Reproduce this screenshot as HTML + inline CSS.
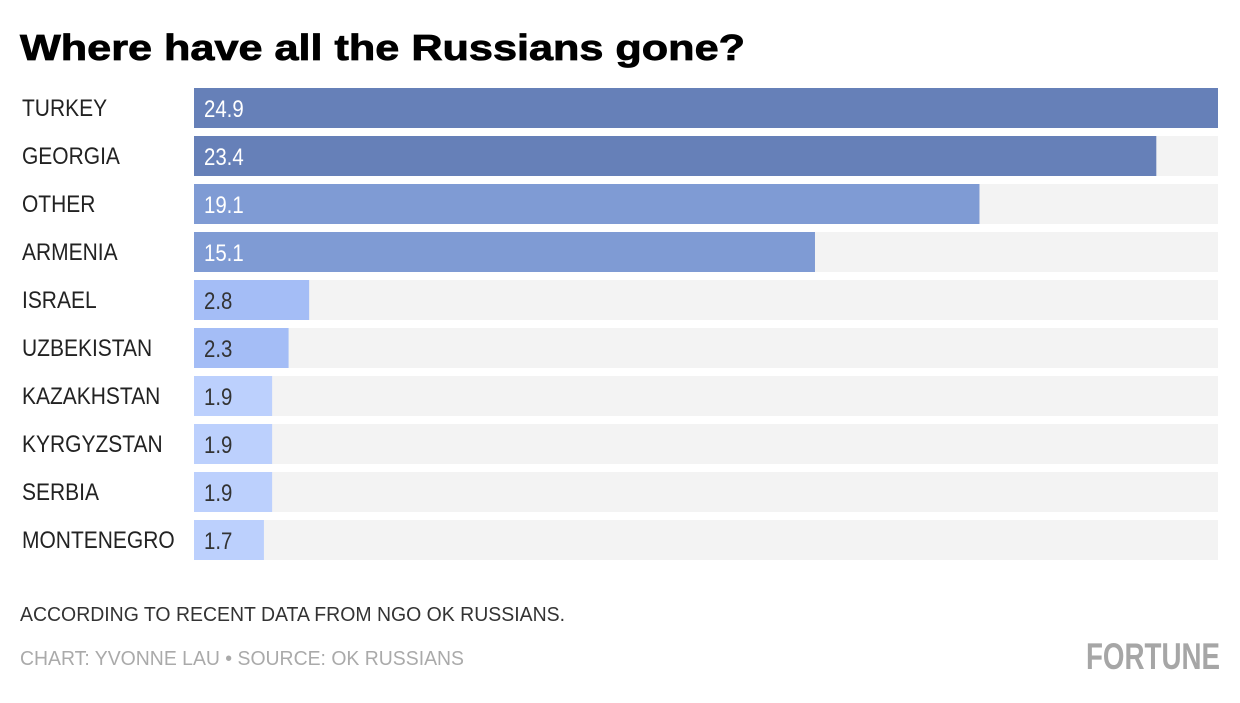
<!DOCTYPE html>
<html><head><meta charset="utf-8"><style>
body{margin:0;background:#fff;width:1240px;height:698px;overflow:hidden;font-family:"Liberation Sans",sans-serif}
</style></head><body>
<svg width="1240" height="698">
<text x="20" y="60" font-size="36" font-weight="bold" fill="#000" stroke="#000" stroke-width="0.8" textLength="725" lengthAdjust="spacingAndGlyphs">Where have all the Russians gone?</text>
<g id="bars"></g>
<text x="20" y="621" font-size="20" fill="#333" textLength="545" lengthAdjust="spacingAndGlyphs">ACCORDING TO RECENT DATA FROM NGO OK RUSSIANS.</text>
<text x="20" y="665" font-size="20" fill="#aaa" textLength="444" lengthAdjust="spacingAndGlyphs">CHART: YVONNE LAU • SOURCE: OK RUSSIANS</text>
<text x="1086" y="669" font-size="37" font-weight="bold" fill="#a6a6a6" textLength="134" lengthAdjust="spacingAndGlyphs">FORTUNE</text>
</svg>
<script>
const categories=["TURKEY","GEORGIA","OTHER","ARMENIA","ISRAEL","UZBEKISTAN","KAZAKHSTAN","KYRGYZSTAN","SERBIA","MONTENEGRO"];
const values=[24.9,23.4,19.1,15.1,2.8,2.3,1.9,1.9,1.9,1.7];
const x0=194,x1=1218,top0=88,step=48,bh=40,maxV=24.9;
const xs=v=>x0+(x1-x0)*v/maxV;
const ys=i=>top0+i*step;
const NS="http://www.w3.org/2000/svg";
const g=document.getElementById('bars');
function col(v){return v>=20?"#6680b8":v>=10?"#7f9bd4":v>=2?"#a4bdf6":"#bcd0fd";}
categories.forEach((c,i)=>{
 const y=ys(i);
 const t=document.createElementNS(NS,'rect');
 
 
 t.setAttribute('x',x0);t.setAttribute('y',y);t.setAttribute('width',x1-x0);t.setAttribute('height',bh);t.setAttribute('fill','#f3f3f3');g.appendChild(t);
 const r=document.createElementNS(NS,'rect');
 
 
 r.setAttribute('x',x0);r.setAttribute('y',y);r.setAttribute('width',xs(values[i])-x0);r.setAttribute('height',bh);r.setAttribute('fill',col(values[i]));g.appendChild(r);
 const l=document.createElementNS(NS,'text');
 
 
 l.setAttribute('x',22);l.setAttribute('y',y+28);l.setAttribute('font-size','24');l.setAttribute('fill','#222');
 l.setAttribute('transform','translate(22 0) scale(0.875 1) translate(-22 0)');
 l.textContent=c;g.appendChild(l);
 const v=document.createElementNS(NS,'text');
 
 
 v.setAttribute('x',204);v.setAttribute('y',y+29);v.setAttribute('font-size','24');v.setAttribute('fill',values[i]>=10?'#fff':'#333');
 v.setAttribute('transform','translate(204 0) scale(0.85 1) translate(-204 0)');
 v.textContent=values[i].toFixed(1);g.appendChild(v);
});
</script>
</body></html>
